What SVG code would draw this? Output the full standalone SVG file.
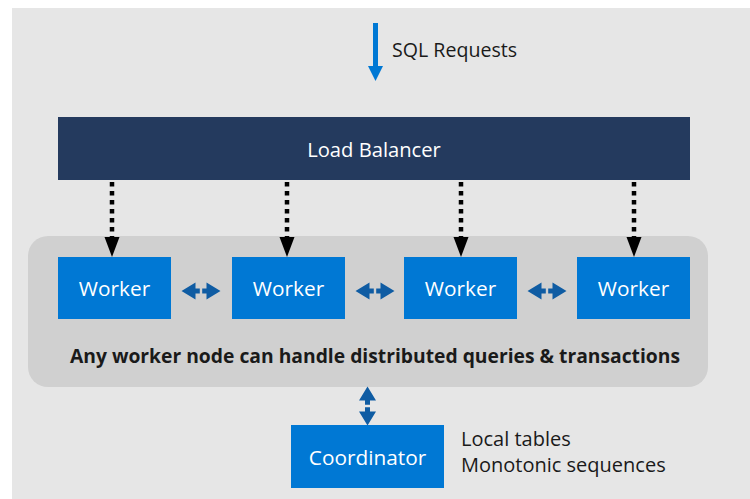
<svg xmlns="http://www.w3.org/2000/svg" width="750" height="499" viewBox="0 0 750 499">
  <style>
    .label { font-family: "Open Sans", "Noto Sans", sans-serif; }
    .box { fill: #0078d4; }
    .white { fill: #ffffff; font-size: 20.8px; text-anchor: middle; }
    .dark { fill: #1a1a1a; font-size: 20px; }
    .dotted { stroke: #000000; stroke-width: 4.5; stroke-dasharray: 4.5 4.5; fill: none; }
    .head { fill: #000000; }
    .peer { fill: #0f5ca3; }
  </style>
  <defs>
    <!-- short double-headed arrow drawn around its centre -->
    <g id="peerArrow" class="peer">
      <path d="M-19.5 0 L-5.5 -8.5 L-5.5 -2.5 L-1.2 -2.5 L-1.2 2.5 L-5.5 2.5 L-5.5 8.5 Z"/>
      <path d="M19.5 0 L5.5 -8.5 L5.5 -2.5 L1.2 -2.5 L1.2 2.5 L5.5 2.5 L5.5 8.5 Z"/>
    </g>
    <!-- dotted drop from the load balancer with its arrowhead -->
    <g id="dispatch">
      <line class="dotted" x1="0" y1="182" x2="0" y2="238"/>
      <path class="head" d="M-7.5 237 L7.5 237 L0 257 Z"/>
    </g>
  </defs>

  <!-- canvas -->
  <rect x="12" y="8" width="738" height="491" fill="#e6e6e6"/>

  <!-- incoming requests -->
  <g id="sql-requests">
    <rect x="373" y="23" width="5" height="45" fill="#0078d4"/>
    <path d="M368 66 L383 66 L375.5 81 Z" fill="#0078d4"/>
    <text class="label dark" x="392" y="57" style="font-size:19.6px">SQL Requests</text>
  </g>

  <g id="load-balancer">
    <rect x="58" y="117" width="632" height="63" fill="#243a5e"/>
    <text class="label white" x="374" y="157" style="font-size:20.2px">Load Balancer</text>
  </g>

  <g id="cluster">
    <rect x="28" y="236" width="680" height="151" rx="20" ry="20" fill="#d0d0d0"/>
    <text class="label" x="375" y="363" font-size="19.3" font-weight="bold" fill="#1a1a1a" text-anchor="middle">Any worker node can handle distributed queries &amp; transactions</text>
  </g>

  <g id="worker-1">
    <rect class="box" x="58" y="257" width="113" height="62"/>
    <text class="label white" x="114.5" y="296">Worker</text>
  </g>
  <g id="worker-2">
    <rect class="box" x="232" y="257" width="113" height="62"/>
    <text class="label white" x="288.5" y="296">Worker</text>
  </g>
  <g id="worker-3">
    <rect class="box" x="404" y="257" width="113" height="62"/>
    <text class="label white" x="460.5" y="296">Worker</text>
  </g>
  <g id="worker-4">
    <rect class="box" x="577" y="257" width="113" height="62"/>
    <text class="label white" x="633.5" y="296">Worker</text>
  </g>

  <g id="coordinator">
    <rect class="box" x="291" y="425" width="153" height="63"/>
    <text class="label white" x="367.5" y="465">Coordinator</text>
    <text class="label dark" x="461" y="446">Local tables</text>
    <text class="label dark" x="461" y="472">Monotonic sequences</text>
  </g>

  <g id="connectors">
    <use href="#dispatch" x="112" y="0"/>
    <use href="#dispatch" x="287" y="0"/>
    <use href="#dispatch" x="461" y="0"/>
    <use href="#dispatch" x="634" y="0"/>
    <use href="#peerArrow" x="201" y="291"/>
    <use href="#peerArrow" x="375" y="291"/>
    <use href="#peerArrow" x="547" y="291"/>
    <use href="#peerArrow" transform="translate(367.5 406) rotate(90)"/>
  </g>
</svg>
